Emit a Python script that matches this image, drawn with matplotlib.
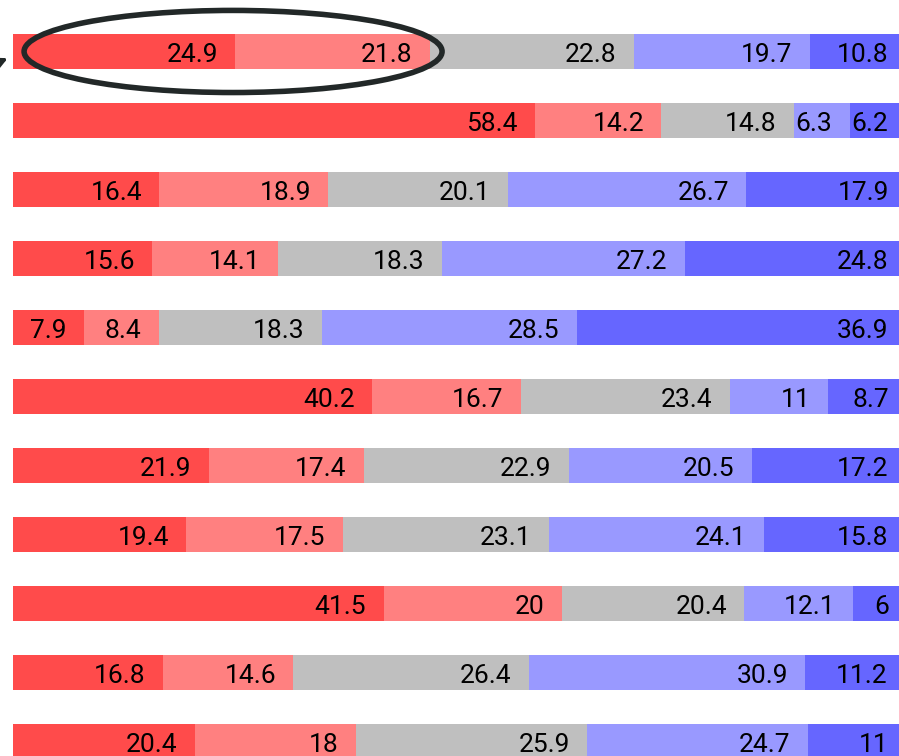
import matplotlib
matplotlib.use("Agg")
import matplotlib.pyplot as plt
from matplotlib.patches import Ellipse

plt.rcParams['font.family'] = ['Roboto', 'DejaVu Sans']

# five answer categories per row, strongly agree -> strongly disagree
seg1 = [24.9, 58.4, 16.4, 15.6, 7.9, 40.2, 21.9, 19.4, 41.5, 16.8, 20.4]
seg2 = [21.8, 14.2, 18.9, 14.1, 8.4, 16.7, 17.4, 17.5, 20, 14.6, 18]
seg3 = [22.8, 14.8, 20.1, 18.3, 18.3, 23.4, 22.9, 23.1, 20.4, 26.4, 25.9]
seg4 = [19.7, 6.3, 26.7, 27.2, 28.5, 11, 20.5, 24.1, 12.1, 30.9, 24.7]
seg5 = [10.8, 6.2, 17.9, 24.8, 36.9, 8.7, 17.2, 15.8, 6, 11.2, 11]
colors = ['#ff4b4b', '#ff8080', '#bfbfbf', '#9999ff', '#6666ff']


def fmt(v):
    return ('%g' % v)


fig = plt.figure(figsize=(8.99, 7.56), dpi=100)
ax = fig.add_axes([0, 0, 1, 1])

rows = list(range(len(seg1)))
left = [0.0] * len(rows)
for vals, c in zip([seg1, seg2, seg3, seg4, seg5], colors):
    ax.barh(rows, vals, left=left, height=0.51, color=c, linewidth=0)
    for i, v in enumerate(vals):
        ax.text(left[i] + v - 1.95, i + 0.15, fmt(v), ha='right', va='baseline',
                fontsize=19, color='#000000')
    left = [l + v for l, v in zip(left, vals)]

# highlight around the first row
ell = Ellipse((24.64, 0.0), 46.8, 1.19, fill=False, edgecolor='#222828',
              linewidth=4.0, zorder=5)
ax.add_patch(ell)
ax.annotate('', xy=(-0.3, 0.08), xytext=(-6.5, 0.45),
            arrowprops=dict(arrowstyle='-|>', color='#222828', lw=2.5,
                            mutation_scale=25),
            annotation_clip=False, zorder=5)

ax.set_xlim(-1.456, 99.2)
ax.set_ylim(10.21, -0.746)
ax.axis('off')

fig.savefig('out.png', dpi=100)
